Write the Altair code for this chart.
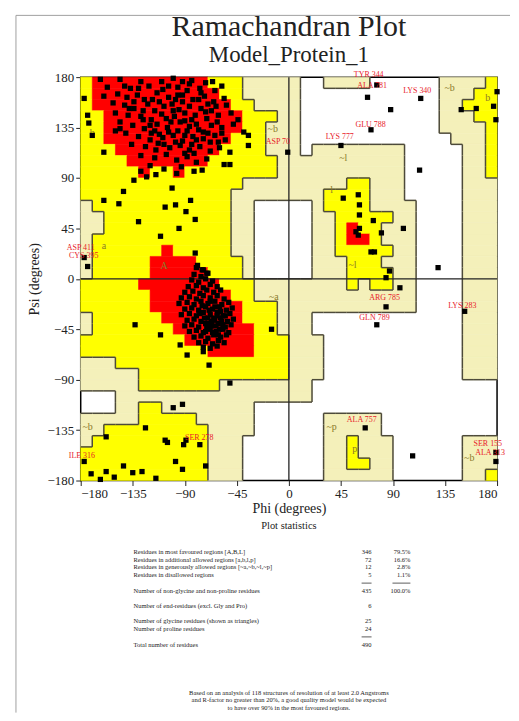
import altair as alt
import pandas as pd

# ---------------- data ----------------
# Region map: 36 rows of 10-degree psi bands (180 -> -180), run-length coded
# over 36 phi bands (-180 -> 180). R core, Y allowed, L generous, W disallowed.
REGION_ROWS = [
    "Y1 R10 Y3 L5 W2 L4 W6 L4 Y1",
    "Y1 R11 Y2 L5 W12 L3 Y2",
    "Y1 R12 Y2 L4 W12 L2 Y3",
    "Y2 R12 Y3 L2 W12 L3 Y2",
    "Y2 R12 Y2 L3 W12 L4 Y1",
    "Y2 R11 Y3 L3 W13 L3 Y1",
    "Y3 R9 Y4 L3 W1 L8 W5 L2 Y1",
    "Y4 R7 Y6 L11 W5 L2 Y1",
    "Y5 R1 Y2 R1 Y8 L11 W5 L2 Y1",
    "Y14 L9 Y2 L3 W5 L3",
    "Y13 L8 Y4 L3 W5 L3",
    "L1 Y12 L2 W5 L1 Y4 L4 W4 L3",
    "L2 Y11 L2 W5 L2 Y5 L2 W4 L3",
    "L2 Y11 L2 W5 L2 Y1 R1 Y2 L3 W4 L3",
    "L1 Y12 L2 W5 L2 Y1 R2 Y1 L3 W4 L3",
    "L1 Y6 R1 Y5 L2 W5 L2 Y5 L2 W4 L3",
    "L1 Y5 R4 Y4 L1 W5 L3 Y3 L3 W4 L3",
    "L1 Y5 R5 Y3 L1 W5 L3 Y4 L2 W4 L3",
    "Y5 R7 Y3 L8 Y1 L1 Y2 L2 W4 L3",
    "Y6 R7 Y2 L14 W4 L3",
    "Y6 R8 Y3 L12 W4 L3",
    "L1 Y6 R7 Y3 L3 W13 L3",
    "L1 Y7 R7 Y2 L3 W13 L3",
    "Y9 R6 Y3 L3 W12 L3",
    "Y11 R4 Y3 L3 W12 L3",
    "L3 Y15 L3 W12 L3",
    "L5 Y13 L3 W12 L3",
    "L5 Y7 L8 W16",
    "W3 L17 W16",
    "W3 L2 Y2 L8 W21",
    "L5 Y5 L5 W6 L5 W10",
    "L2 Y9 L4 W6 L5 W10",
    "L1 Y10 L3 W7 L2 Y1 L3 W6 L3",
    "Y11 L3 W7 L2 Y1 L3 W6 L3",
    "Y11 L3 W7 L2 Y2 L2 W6 L3",
    "Y11 L3 W7 L6 W6 L2 Y1",
]

BETA_PTS = [
    (-163, 178), (-146, 178), (-100, 179), (-128, 176), (-84, 177), (-72, 175),
    (-157, 171), (-137, 170), (-121, 172), (-109, 169), (-96, 171), (-88, 168),
    (-77, 170), (-64, 168), (-58, 172), (-160, 163), (-148, 165), (-131, 164),
    (-125, 160), (-114, 166), (-104, 162), (-92, 164), (-83, 160), (-73, 163),
    (-65, 158), (-56, 161), (-152, 157), (-142, 155), (-134, 152), (-122, 156),
    (-116, 150), (-101, 156), (-95, 151), (-86, 154), (-76, 152), (-67, 150),
    (-54, 155), (-150, 148), (-139, 146), (-128, 145), (-119, 142), (-110, 147),
    (-99, 145), (-90, 141), (-81, 146), (-71, 143), (-61, 146), (-50, 148),
    (-146, 140), (-135, 137), (-125, 134), (-114, 138), (-105, 135), (-96, 132),
    (-86, 136), (-78, 133), (-67, 137), (-58, 135), (-48, 138), (-141, 130),
    (-130, 127), (-119, 130), (-109, 126), (-100, 128), (-92, 123), (-83, 127),
    (-74, 125), (-64, 128), (-55, 124), (-136, 120), (-124, 118), (-113, 121),
    (-103, 117), (-94, 119), (-86, 115), (-77, 118), (-68, 114), (-60, 117),
    (-128, 110), (-116, 108), (-106, 111), (-97, 106), (-88, 109), (-80, 104),
    (-71, 107), (-120, 101), (-108, 98), (-93, 100), (-75, 97), (-118, 160),
    (-108, 154), (-92, 158), (-80, 138), (-70, 156), (-102, 140), (-112, 129),
    (-126, 150), (-88, 132), (-96, 164), (-130, 170), (-140, 162), (-62, 140),
    (-74, 131), (-84, 120), (-115, 115), (-98, 122), (-106, 143), (-120, 137),
    (-90, 148), (-78, 160), (-68, 122), (-58, 130), (-142, 172), (-150, 132),
    (-110, 176), (-86, 174), (-66, 176), (-39, 131), (-44, 142),
    (-134, 158), (-112, 158), (-100, 150), (-94, 140), (-84, 142), (-72, 149),
    (-63, 154), (-126, 142), (-116, 132), (-104, 131), (-90, 128), (-80, 124),
    (-70, 130), (-61, 122), (-138, 152), (-98, 160), (-76, 166), (-120, 124),
    (-108, 120), (-90, 112), (-82, 112), (-146, 134), (-104, 172), (-92, 176),
    (-177, 161), (-174, 146), (-173, 139), (-170, 128), (-160, 113),
    (-56, 102), (-51, 102), (-51, 113), (-35, 128), (-35, 119), (-82, 96),
    (-115, 93), (-123, 91), (-128, 96), (-97, 94), (-134, 88), (-143, 78),
    (-160, 70), (-147, 67), (-130, 51), (-111, 38), (-107, 64), (-98, 66),
    (-101, 81), (-89, 60), (-85, 70), (-81, 53), (-95, 45), (-81, 23),
    (-79, 12), (-75, 8), (-71, 5),
]

ALPHA_PTS = [
    (-80, 10), (-74, 8), (-82, 4), (-76, 2), (-70, 5), (-84, -1), (-78, -3),
    (-72, 0), (-66, -2), (-87, -7), (-80, -6), (-74, -8), (-68, -5), (-62, -7),
    (-90, -12), (-83, -11), (-77, -13), (-71, -10), (-65, -12), (-59, -10),
    (-93, -17), (-86, -16), (-80, -18), (-74, -15), (-68, -17), (-62, -15),
    (-56, -18), (-95, -22), (-88, -21), (-82, -23), (-76, -20), (-70, -22),
    (-64, -20), (-58, -23), (-52, -21), (-90, -27), (-84, -26), (-78, -28),
    (-72, -25), (-66, -27), (-60, -25), (-54, -28), (-49, -26), (-93, -32),
    (-86, -31), (-80, -33), (-74, -30), (-68, -32), (-62, -30), (-57, -33),
    (-51, -31), (-88, -37), (-82, -36), (-76, -38), (-70, -35), (-64, -37),
    (-59, -35), (-53, -38), (-48, -36), (-90, -42), (-84, -41), (-78, -43),
    (-72, -40), (-67, -42), (-61, -40), (-55, -43), (-50, -41), (-86, -47),
    (-80, -46), (-74, -48), (-68, -45), (-63, -47), (-57, -45), (-52, -48),
    (-82, -52), (-76, -51), (-70, -53), (-65, -50), (-59, -52), (-54, -50),
    (-78, -57), (-72, -56), (-66, -58), (-61, -55), (-56, -57), (-74, -61),
    (-68, -62), (-62, -60), (-65, -35), (-63, -42), (-67, -38), (-60, -45),
    (-69, -28), (-71, -44), (-58, -38), (-64, -25), (-66, -48), (-62, -33),
    (-70, -40), (-57, -41), (-61, -50), (-73, -35), (-75, -24), (-68, -20),
    (-55, -33), (-59, -29), (-77, -31), (-72, -47),
    (-133, -41), (-111, -50), (-94, -59), (-88, -68), (-74, -65), (-69, -77),
    (-51, -93), (-15, -45), (-100, -115), (-92, -112), (-124, -133),
    (-158, -141), (-107, -144), (-105, -146), (-89, -144), (-91, -148),
    (-77, -148), (-98, -163), (-92, -170), (-72, -167), (-171, -174),
    (-163, -179), (-158, -172), (-151, -177), (-143, -167), (-135, -173),
    (-127, -172), (-115, -178), (-177, -163),
]

OTHER_PTS = [
    (47, 72), (60, 75), (61, 66), (61, 57), (73, 52), (99, 45), (61, 45),
    (58, 42), (60, 39), (80, 41), (71, 24), (74, 24), (87, 7), (84, 1),
    (96, -8), (129, 10), (88, 151), (113, 97), (162, 152), (149, 151),
    (180, 167), (177, 154), (179, 142), (68, 162), (76, 173), (114, 161),
    (71, 133), (45, 119), (84, -25), (76, -41), (152, -29), (66, -133),
    (107, -158), (179, -155), (179, -163), (-177, 19), (-174, 11), (-1, 113),
]

RES_LABELS = [
    ("ASP 70", -9.5, 122), ("LYS 340", 111, 168), ("GLU 788", 70.6, 137),
    ("LYS 777", 44, 126.5), ("TYR 344", 69, 181.5), ("ALA 781", 72, 172.5),
    ("ARG 785", 82.7, -17), ("GLN 789", 74, -34.8), ("LYS 283", 150, -24),
    ("ALA 757", 63, -125.7), ("SER 155", 172, -147.5), ("ALA 313", 174, -155.5),
    ("ILE 316", -179, -158), ("SER 278", -77.5, -142),
    ("ASP 411", -180, 27.6), ("CYS 395", -177.4, 20),
]

REGION_LETTERS = [
    ("b", -170, 130), ("A", -108, 11), ("a", -160, 29), ("l", 37, 79),
    ("p", 57, -152), ("b", 172, 161),
    ("~b", 139, 170), ("~b", -14, 134), ("~a", -13, -16), ("~p", 37, -132),
    ("~b", 156, -160), ("~b", -174, -132), ("~l", 55, 12), ("~l", 47, 108),
]

TITLE = "Ramachandran Plot"
SUBTITLE = "Model_Protein_1"
STAT_HEAD = "Plot statistics"
STAT_LABELS = [
    "Residues in most favoured regions [A,B,L]",
    "Residues in additional allowed regions [a,b,l,p]",
    "Residues in generously allowed regions [~a,~b,~l,~p]",
    "Residues in disallowed regions",
    "Number of non-glycine and non-proline residues",
    "Number of end-residues (excl. Gly and Pro)",
    "Number of glycine residues (shown as triangles)",
    "Number of proline residues",
    "Total number of residues",
]
STAT_COUNTS = ["346", "72", "12", "5", "435", "6", "25", "24", "490"]
STAT_PCTS = ["79.5%", "16.6%", "2.8%", "1.1%", "100.0%", "", "", "", ""]
FOOTNOTE = [
    "Based on an analysis of 118 structures of resolution of at least 2.0 Angstroms",
    "and R-factor no greater than 20%, a good quality model would be expected",
    "to have over 90% in the most favoured regions.",
]
TICKS = [-180, -135, -90, -45, 0, 45, 90, 135, 180]

# ---------------- layout constants (pixels, relative to plot area) ----------------
W, H = 418, 405
TITLE_Y, SUBTITLE_Y = -41, -15
ROW_Y = [477, 484.5, 492, 499.5, 516, 531, 546, 554, 570]
DASH_Y = [508, 562]
TEXT_X, COUNT_X, PCT_X = 53, 292, 331
SERIF = "Liberation Serif"

# ---------------- build tables ----------------
grid = []
for row in REGION_ROWS:
    cells = []
    for tok in row.split():
        cells += [tok[0]] * int(tok[1:])
    assert len(cells) == 36, row
    grid.append(cells)

rects = []
for j, cells in enumerate(grid):
    k = 0
    while k < 36:
        c = cells[k]
        k2 = k
        while k2 + 1 < 36 and cells[k2 + 1] == c:
            k2 += 1
        if c != "W":
            rects.append(dict(phi0=-180 + 10 * k, phi1=-180 + 10 * (k2 + 1),
                              psi0=170 - 10 * j, psi1=180 - 10 * j, cls=c))
        k = k2 + 1
df_rects = pd.DataFrame(rects)


def needs_line(a, b):
    return a != b and {a, b} != {"R", "Y"}


segs = []
for j in range(36):
    for k in range(35):
        if needs_line(grid[j][k], grid[j][k + 1]):
            x = -180 + 10 * (k + 1)
            segs.append(dict(x=x, x2=x, y=170 - 10 * j, y2=180 - 10 * j))
for j in range(35):
    for k in range(36):
        if needs_line(grid[j][k], grid[j + 1][k]):
            y = 170 - 10 * j
            segs.append(dict(x=-180 + 10 * k, x2=-170 + 10 * k, y=y, y2=y))
df_segs = pd.DataFrame(segs)

df_pts = pd.DataFrame(BETA_PTS + ALPHA_PTS + OTHER_PTS, columns=["phi", "psi"])
df_lab = pd.DataFrame(RES_LABELS, columns=["text", "phi", "psi"])
df_let = pd.DataFrame(REGION_LETTERS, columns=["text", "phi", "psi"])

xs = alt.Scale(domain=[-180, 180], nice=False, zero=False)
ys = alt.Scale(domain=[-180, 180], nice=False, zero=False)
xaxis = alt.Axis(values=TICKS, title="Phi (degrees)", grid=False, domain=False,
                 tickSize=5, labelPadding=2, titlePadding=1)
yaxis = alt.Axis(values=TICKS, title="Psi (degrees)", grid=False, domain=False,
                 tickSize=5, labelPadding=2, titlePadding=6)

cls_scale = alt.Scale(domain=["R", "Y", "L"], range=["#FF0000", "#FFFF00", "#F4F0BA"])
regions = alt.Chart(df_rects).mark_rect(strokeWidth=0.6).encode(
    x=alt.X("phi0:Q", scale=xs, axis=xaxis),
    x2="phi1:Q",
    y=alt.Y("psi0:Q", scale=ys, axis=yaxis),
    y2="psi1:Q",
    color=alt.Color("cls:N", scale=cls_scale, legend=None),
    stroke=alt.Stroke("cls:N", scale=cls_scale, legend=None),
)
bounds = alt.Chart(df_segs).mark_rule(color="#4d4a3a", strokeWidth=1.5).encode(
    x="x:Q", x2="x2:Q", y="y:Q", y2="y2:Q")
zero_df = pd.DataFrame({"v": [0]})
vline = alt.Chart(zero_df).mark_rule(color="#222", strokeWidth=1.3).encode(x="v:Q")
hline = alt.Chart(zero_df).mark_rule(color="#222", strokeWidth=1.3).encode(y="v:Q")
letters = alt.Chart(df_let).mark_text(font=SERIF, fontSize=10, color="#8a7a2a").encode(
    x="phi:Q", y="psi:Q", text="text:N")
points = alt.Chart(df_pts).mark_square(size=28, color="black", opacity=1).encode(
    x="phi:Q", y="psi:Q")
labels = alt.Chart(df_lab).mark_text(font=SERIF, fontSize=8, color="#e8202a").encode(
    x="phi:Q", y="psi:Q", text="text:N")

main = alt.layer(regions, bounds, vline, hline, letters, points, labels)

# ---- titles, statistics table and page frame (own pixel-like scales) ----
tx = alt.Scale(domain=[0, W], nice=False, zero=False)
ty = alt.Scale(domain=[0, H], nice=False, zero=False, reverse=True)


def txt(df, **mk):
    return alt.Chart(df).mark_text(font=SERIF, color="#222", **mk).encode(
        x=alt.X("x:Q", scale=tx, axis=None), y=alt.Y("y:Q", scale=ty, axis=None), text="t:N")


title = txt(pd.DataFrame({"t": [TITLE], "x": [W / 2], "y": [TITLE_Y]}),
            fontSize=30, baseline="alphabetic")
subtitle = txt(pd.DataFrame({"t": [SUBTITLE], "x": [W / 2], "y": [SUBTITLE_Y]}),
               fontSize=23, baseline="alphabetic")
head = txt(pd.DataFrame({"t": [STAT_HEAD], "x": [W / 2], "y": [451]}), fontSize=10.5)
row_txt = txt(pd.DataFrame({"t": STAT_LABELS, "x": TEXT_X, "y": ROW_Y}),
              fontSize=6.5, align="left")
row_cnt = txt(pd.DataFrame({"t": STAT_COUNTS, "x": COUNT_X, "y": ROW_Y}),
              fontSize=6.5, align="right")
row_pct = txt(pd.DataFrame({"t": STAT_PCTS, "x": PCT_X, "y": ROW_Y}),
              fontSize=6.5, align="right")
foot = txt(pd.DataFrame({"t": FOOTNOTE, "x": W / 2, "y": [618, 625.5, 633]}), fontSize=6.5)

df_dash = pd.DataFrame({"x": [COUNT_X - 10, PCT_X - 18, COUNT_X - 10],
                        "x2": [COUNT_X, PCT_X, COUNT_X],
                        "y": [DASH_Y[0], DASH_Y[0], DASH_Y[1]]})
dashes = alt.Chart(df_dash).mark_rule(color="#333", strokeWidth=0.8).encode(
    x=alt.X("x:Q", scale=tx, axis=None), x2="x2:Q",
    y=alt.Y("y:Q", scale=ty, axis=None))

df_frame = pd.DataFrame({"x": [-65, -65], "x2": [431, -65], "y": [-62, -62], "y2": [-62, 638]})
frame = alt.Chart(df_frame).mark_rule(color="#a0a0a0", strokeWidth=1).encode(
    x=alt.X("x:Q", scale=tx, axis=None), x2="x2:Q",
    y=alt.Y("y:Q", scale=ty, axis=None), y2="y2:Q")

table = alt.layer(frame, title, subtitle, head, row_txt, row_cnt, row_pct, dashes, foot)

chart = alt.layer(main, table).resolve_scale(x="independent", y="independent").properties(
    width=W, height=H, background="white",
    padding={"left": 7, "top": 3, "right": 0, "bottom": 0},
).configure_view(stroke="black", strokeWidth=1.5).configure_axis(
    labelFont=SERIF, labelFontSize=13, labelColor="#222",
    titleFont=SERIF, titleFontSize=14, titleFontWeight="normal", titleColor="#222",
    tickColor="#222",
)

chart.save("out.html", embed_options={"renderer": "svg", "actions": False})
